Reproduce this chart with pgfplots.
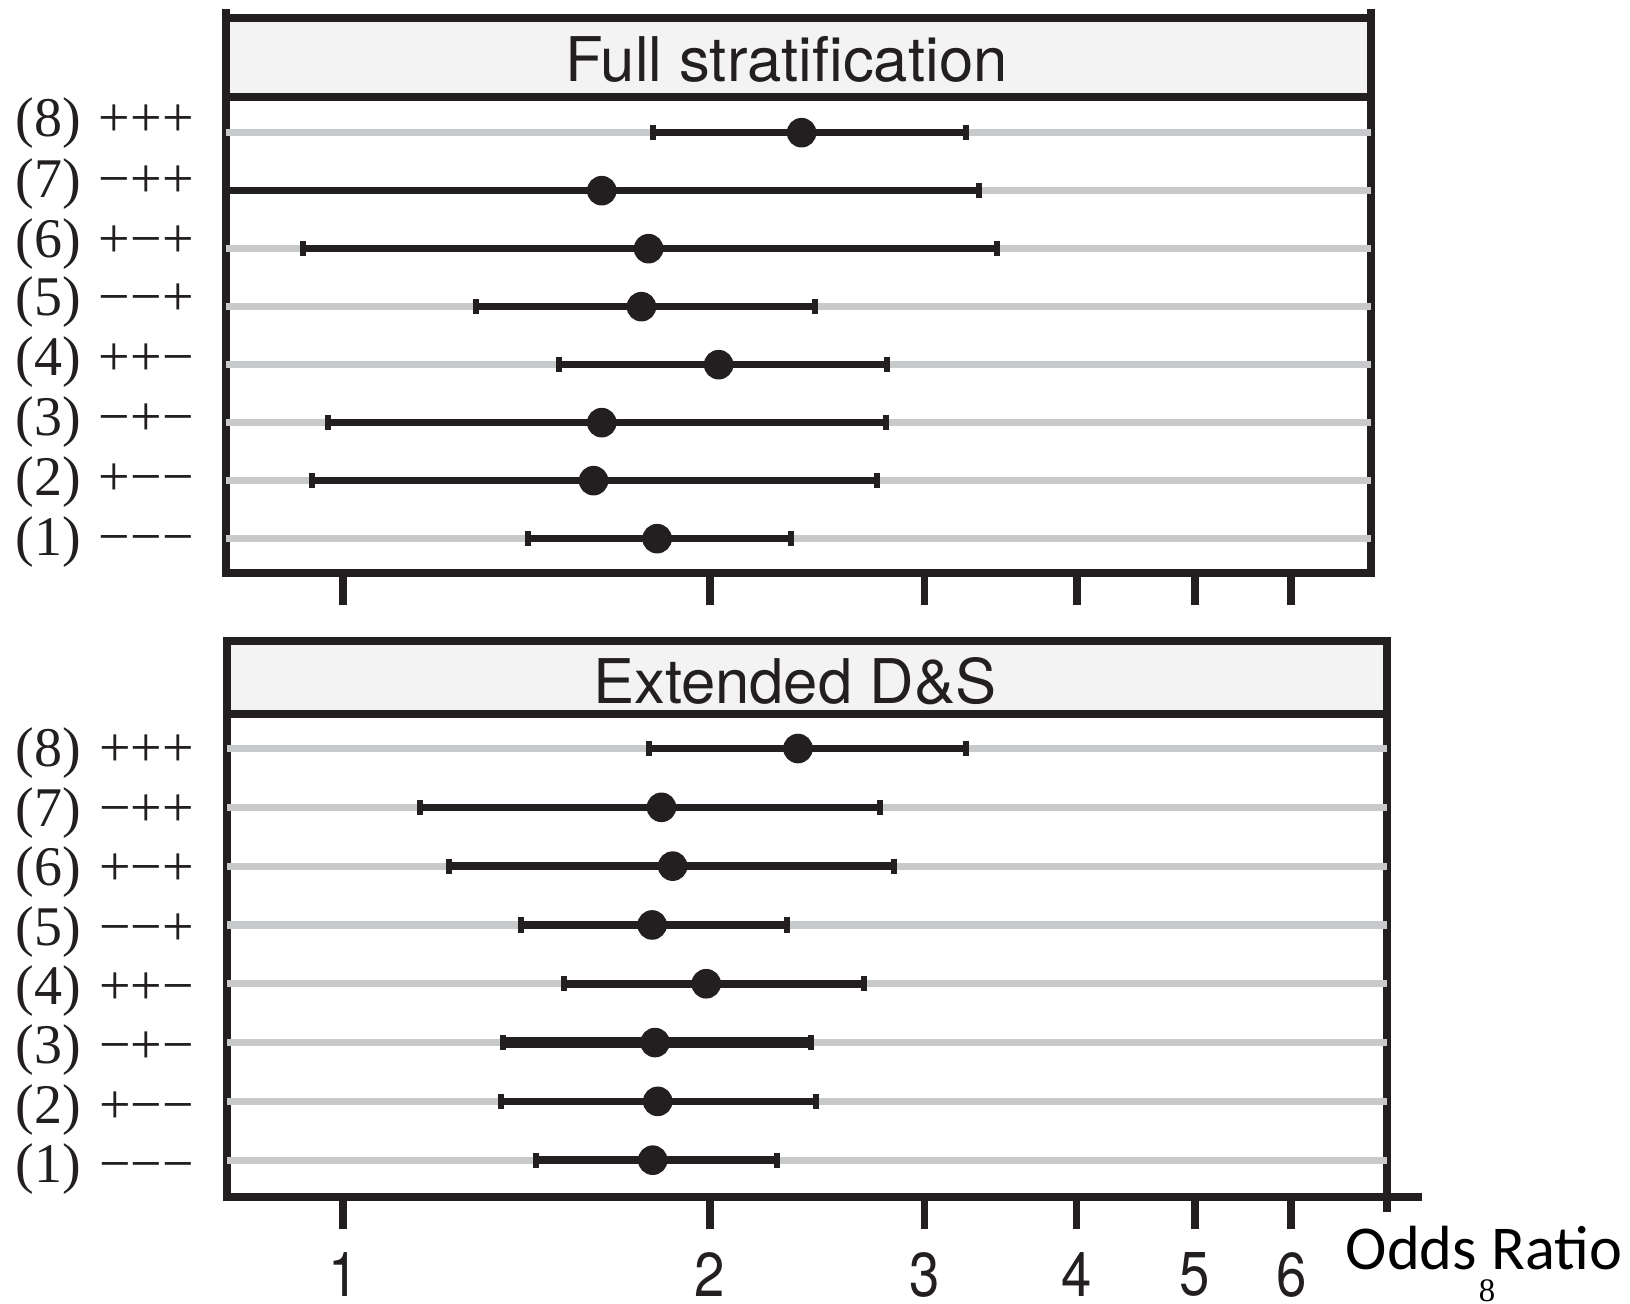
\documentclass[border=0pt]{standalone}
\usepackage{fontspec}
\setmainfont{Liberation Serif}
\newfontfamily\helv{TeX Gyre Heros}
\newfontfamily\helvn[FakeStretch=0.88]{TeX Gyre Heros}
\newfontfamily\carl{Carlito}
\usepackage{pgfplots}
\pgfplotsset{compat=1.18}
\usepackage{pgfplotstable}
\definecolor{framecol}{RGB}{35,31,32}
\definecolor{gridcol}{RGB}{200,201,203}
\definecolor{stripcol}{RGB}{243,243,243}

% row, point estimate, lower, upper (odds ratio)
\pgfplotstableread{
row pt lo hi
8 2.378 1.795 3.247
7 1.630 0.8007 3.327
6 1.781 0.927 3.438
5 1.757 1.285 2.439
4 2.033 1.504 2.794
3 1.630 0.972 2.789
2 1.605 0.942 2.741
1 1.810 1.417 2.333
}\topdata
\pgfplotstableread{
row pt lo hi
8 2.362 1.781 3.243
7 1.825 1.155 2.759
6 1.864 1.222 2.832
5 1.793 1.398 2.312
4 1.986 1.518 2.678
3 1.803 1.353 2.419
2 1.812 1.348 2.443
1 1.795 1.440 2.268
}\botdata

\pgfplotsset{
  ciline/.style={line width=1.9pt, draw=framecol, unbounded coords=jump, mark=none},
  cicap/.style={only marks, mark=|, mark size=1.9pt, mark options={line width=1.5pt, draw=framecol}},
  cipt/.style={only marks, mark=*, mark size=3.4pt, mark options={fill=framecol, draw=framecol, line width=0.6pt}},
}

\begin{document}
\begin{tikzpicture}
\path[use as bounding box] (0,0) rectangle (407.5pt,326pt);

% ---------- top panel ----------
\begin{axis}[
  xmode=log,
  scale only axis, clip=false,
  at={(56.425pt,182.675pt)}, anchor=south west,
  width=286.325pt, height=119.15pt,
  xmin=0.8007, xmax=6.977, ymin=0.403, ymax=8.621,
  axis line style={line width=2pt, draw=framecol},
  xtick={1,2,3,4,5,6}, xtick pos=bottom, tick align=outside,
  xminorticks=false, yminorticks=false,
  major tick length=8pt,
  xtick style={line width=1.9pt, draw=framecol},
  ytick style={draw=none},
  xticklabels={},
  ytick={0.948,1.983,3.017,4.052,5.076,6.076,7.110,8.162},
  yticklabels={(1)\hspace{0.32em}−−−,(2)\hspace{0.32em}+−−,(3)\hspace{0.32em}−+−,(4)\hspace{0.32em}++−,(5)\hspace{0.32em}−−+,(6)\hspace{0.32em}+−+,(7)\hspace{0.32em}−++,(8)\hspace{0.32em}+++},
  yticklabel style={font=\fontsize{14}{14}\selectfont, text=framecol, anchor=east, inner sep=0pt, xshift=0.2pt},
  extra y ticks={1,2,3,4,5,6,7,8}, extra y tick labels={},
  extra y tick style={grid=major, major grid style={line width=1.8pt, draw=gridcol}, tick style={draw=none}},
]
\addplot[ciline] coordinates {
(1.795,8) (3.247,8) (nan,nan)
(0.8007,7) (3.327,7) (nan,nan)
(0.927,6) (3.438,6) (nan,nan)
(1.285,5) (2.439,5) (nan,nan)
(1.504,4) (2.794,4) (nan,nan)
(0.972,3) (2.789,3) (nan,nan)
(0.942,2) (2.741,2) (nan,nan)
(1.417,1) (2.333,1)
};
\addplot[cicap] coordinates {
(1.795,8) (3.247,8) (3.327,7) (0.927,6) (3.438,6) (1.285,5) (2.439,5)
(1.504,4) (2.794,4) (0.972,3) (2.789,3) (0.942,2) (2.741,2) (1.417,1) (2.333,1)
};
\addplot[cipt] table[x=pt, y=row] {\topdata};
\draw[line width=2pt, draw=framecol, fill=stripcol] (rel axis cs:0,1) rectangle (rel axis cs:1,1.1645);
\draw[line width=2pt, draw=framecol] (rel axis cs:0,1.1645) -- (rel axis cs:0,1.1834);
\draw[line width=2pt, draw=framecol] (rel axis cs:1,1.1645) -- (rel axis cs:1,1.1834);
\node[anchor=base, inner sep=0pt, font=\helv\fontsize{15.4}{16}\selectfont, text=framecol, xshift=-3pt] at (rel axis cs:0.5,1.0315) {Full stratification};
\end{axis}

% ---------- bottom panel ----------
\begin{axis}[
  xmode=log,
  scale only axis, clip=false,
  at={(56.675pt,26.675pt)}, anchor=south west,
  width=290pt, height=120.75pt,
  xmin=0.8022, xmax=7.188, ymin=0.369, ymax=8.582,
  axis line style={line width=2pt, draw=framecol},
  xtick={1,2,3,4,5,6}, xtick pos=bottom, tick align=outside,
  xminorticks=false, yminorticks=false,
  major tick length=8pt,
  xtick style={line width=1.9pt, draw=framecol},
  ytick style={draw=none},
  xticklabels={1,2,3,4,5,6},
  xticklabel style={font=\helvn\fontsize{15.5}{16}\selectfont, text=framecol, inner sep=0pt, yshift=-5.5pt},
  ytick={0.845,1.855,2.865,3.875,4.885,5.895,6.905,7.915},
  yticklabels={(1)\hspace{0.32em}−−−,(2)\hspace{0.32em}+−−,(3)\hspace{0.32em}−+−,(4)\hspace{0.32em}++−,(5)\hspace{0.32em}−−+,(6)\hspace{0.32em}+−+,(7)\hspace{0.32em}−++,(8)\hspace{0.32em}+++},
  yticklabel style={font=\fontsize{14}{14}\selectfont, text=framecol, anchor=east, inner sep=0pt, xshift=0pt},
  extra y ticks={1,2,3,4,5,6,7,8}, extra y tick labels={},
  extra y tick style={grid=major, major grid style={line width=1.8pt, draw=gridcol}, tick style={draw=none}},
]
\addplot[ciline] coordinates {
(1.781,8) (3.243,8) (nan,nan)
(1.155,7) (2.759,7) (nan,nan)
(1.222,6) (2.832,6) (nan,nan)
(1.398,5) (2.312,5) (nan,nan)
(1.518,4) (2.678,4) (nan,nan)
(1.348,2) (2.443,2) (nan,nan)
(1.440,1) (2.268,1)
};
\addplot[ciline, line width=2.6pt] coordinates {(1.353,3) (2.419,3)};
\addplot[cicap] coordinates {
(1.781,8) (3.243,8) (1.155,7) (2.759,7) (1.222,6) (2.832,6) (1.398,5) (2.312,5)
(1.518,4) (2.678,4) (1.353,3) (2.419,3) (1.348,2) (2.443,2) (1.440,1) (2.268,1)
};
\addplot[cipt] table[x=pt, y=row] {\botdata};
\draw[line width=2pt, draw=framecol, fill=stripcol] (rel axis cs:0,1) rectangle (rel axis cs:1,1.1524);
\draw[line width=2pt, draw=framecol] (rel axis cs:1,0) -- ++(8.75pt,0pt);
\draw[line width=2pt, draw=framecol] (rel axis cs:1,0) -- ++(0pt,-3.6pt);
\node[anchor=base, inner sep=0pt, font=\helv\fontsize{15.4}{16}\selectfont, text=framecol, xshift=-3pt] at (rel axis cs:0.5,1.0228) {Extended D\&S};
\end{axis}

\node[anchor=base west, inner sep=0pt, font=\carl\fontsize{15.6}{16}\selectfont] at (336.25pt,8.5pt) {Odds Ratio};
\node[anchor=base, inner sep=0pt, font=\fontsize{8.2}{9}\selectfont] at (371.75pt,0.6pt) {8};
\end{tikzpicture}
\end{document}
